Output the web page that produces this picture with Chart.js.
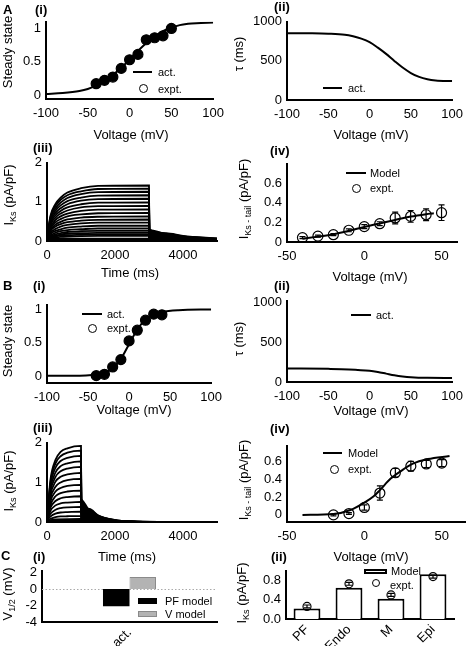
<!DOCTYPE html>
<html lang="en">
<head>
  <meta charset="UTF-8">
  <title>IKs model vs experiment</title>
  <script src="https://cdn.jsdelivr.net/npm/chart.js"></script>
  <style>
    html, body { margin: 0; padding: 0; background: #fff; }
    body { position: relative; width: 468px; height: 646px; overflow: hidden;
           font-family: "Liberation Sans", Arial, sans-serif; color: #000; }
    canvas { position: absolute; }
    .lbl { position: absolute; font-size: 13px; font-weight: bold; line-height: 1; white-space: nowrap; }
    .ytitle { position: absolute; font-size: 13px; line-height: 1; white-space: nowrap;
              transform: translate(-50%, -50%) rotate(-90deg); }
    .xtitle { position: absolute; font-size: 13px; line-height: 1; white-space: nowrap;
              transform: translate(-50%, -50%); }
    .legtxt { position: absolute; font-size: 11px; line-height: 1; white-space: nowrap; transform: translateY(-50%); }
    .legmark { position: absolute; box-sizing: border-box; }
    sub { font-size: 9px; vertical-align: baseline; position: relative; top: 3px; }
  </style>
</head>
<body>
<script>
// ---------- values ----------

// A(i) / B(i) steady-state activation
const ssVoltA = [-100, -80, -60, -50, -40, -30, -20, -10, 0, 10, 20, 30, 40, 50, 60, 70, 80, 100];
const ssModelA = [0.015, 0.03, 0.06, 0.09, 0.14, 0.21, 0.30, 0.41, 0.53, 0.66, 0.78, 0.88, 0.96, 1.01, 1.05, 1.07, 1.08, 1.09];
const ssExptVoltA = [-40, -30, -20, -10, 0, 10, 20, 30, 40, 50];
const ssExptA = [0.17, 0.22, 0.27, 0.40, 0.53, 0.61, 0.83, 0.86, 0.89, 1.0];

const ssVoltB = [-100, -60, -45, -30, -20, -10, 0, 10, 20, 30, 40, 60, 100];
const ssModelB = [0.01, 0.01, 0.02, 0.05, 0.12, 0.26, 0.48, 0.70, 0.85, 0.93, 0.965, 0.99, 1.0];
const ssExptVoltB = [-40, -30, -20, -10, 0, 10, 20, 30, 40];
const ssExptB = [0.01, 0.03, 0.14, 0.25, 0.53, 0.69, 0.84, 0.93, 0.92];

// A(ii) / B(ii) time constant
const tauVoltA = [-100, -75, -50, -30, -20, -10, 0, 10, 20, 30, 40, 50, 60, 70, 80, 100];
const tauA = [855, 853, 848, 835, 815, 785, 740, 670, 590, 500, 415, 345, 295, 265, 250, 242];
const tauVoltB = [-100, -50, -25, 0, 10, 20, 30, 40, 50, 70, 100];
const tauB = [170, 165, 158, 140, 125, 105, 85, 70, 60, 52, 50];

// A(iii) current traces, 3000 ms pulses
const timeA = [0, 100, 250, 400, 600, 1000, 1500, 3000, 3010, 3500, 4000, 5000];
const tracesA = [
  [0.05, 0.64, 0.95, 1.11, 1.24, 1.35, 1.41, 1.42, 0.30, 0.20, 0.13, 0.065],
  [0.05, 0.60, 0.90, 1.05, 1.17, 1.27, 1.33, 1.34, 0.28, 0.19, 0.12, 0.06],
  [0.05, 0.57, 0.84, 0.98, 1.10, 1.20, 1.25, 1.26, 0.27, 0.18, 0.115, 0.058],
  [0.05, 0.53, 0.78, 0.91, 1.02, 1.11, 1.16, 1.17, 0.25, 0.165, 0.107, 0.054],
  [0.05, 0.49, 0.72, 0.84, 0.94, 1.03, 1.07, 1.08, 0.23, 0.15, 0.10, 0.05],
  [0.05, 0.45, 0.66, 0.77, 0.86, 0.94, 0.98, 0.99, 0.21, 0.14, 0.09, 0.045],
  [0.05, 0.41, 0.60, 0.70, 0.78, 0.86, 0.89, 0.90, 0.19, 0.127, 0.082, 0.041],
  [0.05, 0.36, 0.54, 0.63, 0.70, 0.77, 0.80, 0.81, 0.17, 0.114, 0.074, 0.037],
  [0.05, 0.32, 0.48, 0.56, 0.63, 0.68, 0.71, 0.72, 0.15, 0.10, 0.066, 0.033],
  [0.05, 0.28, 0.42, 0.49, 0.55, 0.60, 0.62, 0.63, 0.13, 0.09, 0.058, 0.029],
  [0.05, 0.25, 0.37, 0.43, 0.48, 0.52, 0.54, 0.55, 0.12, 0.077, 0.05, 0.025],
  [0.05, 0.21, 0.31, 0.37, 0.41, 0.45, 0.47, 0.47, 0.10, 0.066, 0.043, 0.022],
  [0.05, 0.18, 0.26, 0.30, 0.34, 0.37, 0.39, 0.39, 0.08, 0.055, 0.036, 0.018],
  [0.05, 0.14, 0.21, 0.25, 0.28, 0.30, 0.32, 0.32, 0.07, 0.045, 0.03, 0.015],
  [0.05, 0.12, 0.17, 0.20, 0.23, 0.25, 0.26, 0.26, 0.055, 0.037, 0.024, 0.012],
  [0.05, 0.10, 0.14, 0.165, 0.185, 0.20, 0.21, 0.21, 0.045, 0.03, 0.02, 0.01],
  [0.05, 0.085, 0.115, 0.135, 0.15, 0.16, 0.17, 0.17, 0.036, 0.024, 0.016, 0.008],
  [0.05, 0.07, 0.09, 0.105, 0.115, 0.125, 0.13, 0.13, 0.03, 0.02, 0.012, 0.006]
];
// solid black band under the traces and tails
const bandTimeA = [0, 100, 250, 400, 600, 1000, 3000, 3010, 3500, 4000, 5000];
const bandA = [0.05, 0.07, 0.08, 0.08, 0.08, 0.08, 0.08, 0.30, 0.20, 0.13, 0.065];

// B(iii) current traces, 1000 ms pulses
const timeB = [0, 100, 250, 400, 600, 1000, 1010, 1250, 1500, 2000, 2500, 3500, 5000];
const tracesB = [
  [0.05, 1.06, 1.57, 1.77, 1.86, 1.92, 0.58, 0.33, 0.17, 0.05, 0.015, 0.003, 0],
  [0.05, 0.99, 1.48, 1.66, 1.75, 1.80, 0.54, 0.31, 0.16, 0.047, 0.014, 0.003, 0],
  [0.05, 0.92, 1.37, 1.54, 1.62, 1.67, 0.50, 0.29, 0.15, 0.044, 0.013, 0.003, 0],
  [0.05, 0.84, 1.25, 1.41, 1.48, 1.53, 0.46, 0.26, 0.135, 0.04, 0.012, 0.002, 0],
  [0.05, 0.76, 1.14, 1.28, 1.35, 1.39, 0.42, 0.24, 0.12, 0.036, 0.011, 0.002, 0],
  [0.05, 0.68, 1.02, 1.14, 1.20, 1.24, 0.37, 0.21, 0.11, 0.032, 0.01, 0.002, 0],
  [0.05, 0.60, 0.89, 1.00, 1.06, 1.09, 0.33, 0.19, 0.097, 0.028, 0.009, 0.002, 0],
  [0.05, 0.52, 0.77, 0.86, 0.91, 0.94, 0.28, 0.16, 0.083, 0.025, 0.007, 0.001, 0],
  [0.05, 0.43, 0.65, 0.73, 0.77, 0.79, 0.24, 0.136, 0.07, 0.02, 0.006, 0.001, 0],
  [0.05, 0.36, 0.53, 0.60, 0.63, 0.65, 0.20, 0.11, 0.058, 0.017, 0.005, 0.001, 0],
  [0.05, 0.28, 0.42, 0.47, 0.49, 0.51, 0.15, 0.088, 0.045, 0.013, 0.004, 0.001, 0],
  [0.05, 0.21, 0.31, 0.35, 0.37, 0.38, 0.115, 0.065, 0.034, 0.01, 0.003, 0, 0],
  [0.05, 0.14, 0.21, 0.24, 0.25, 0.26, 0.08, 0.045, 0.023, 0.007, 0.002, 0, 0],
  [0.05, 0.08, 0.12, 0.14, 0.145, 0.15, 0.045, 0.026, 0.013, 0.004, 0.001, 0, 0]
];
const bandTimeB = [0, 100, 250, 1000, 1010, 1250, 1500, 2000, 2500, 3500, 5000];
const bandB = [0.05, 0.07, 0.09, 0.1, 0.58, 0.33, 0.17, 0.05, 0.015, 0.003, 0];

// A(iv) / B(iv) tail current I-V
const tailModelVoltA = [-40, -30, -20, -10, 0, 10, 20, 30, 40, 45];
const tailModelA = [0.033, 0.055, 0.08, 0.115, 0.154, 0.19, 0.226, 0.26, 0.285, 0.295];
const tailExptVoltA = [-40, -30, -20, -10, 0, 10, 20, 30, 40, 50];
const tailExptA = [0.045, 0.06, 0.075, 0.12, 0.157, 0.187, 0.246, 0.262, 0.279, 0.30];
const tailErrA = [0.01, 0.01, 0.01, 0.015, 0.02, 0.02, 0.06, 0.06, 0.06, 0.08];

const tailModelVoltB = [-40, -20, -9, 0, 6, 10, 17, 24, 31, 41, 55];
const tailModelB = [0.0, 0.01, 0.055, 0.138, 0.21, 0.28, 0.41, 0.50, 0.575, 0.63, 0.665];
const tailExptVoltB = [-20, -10, 0, 10, 20, 30, 40, 50];
const tailExptB = [0.0, 0.015, 0.084, 0.247, 0.476, 0.55, 0.575, 0.585];
const tailErrB = [0.01, 0.01, 0.03, 0.08, 0.05, 0.055, 0.04, 0.04];

// C(i) half-activation shift, C(ii) IKs by region
const v12Cats = ['act.'];
const v12PF = [-2.1];
const v12V = [1.45];
const regions = ['PF', 'Endo', 'M', 'Epi'];
const iksModel = [0.22, 0.65, 0.42, 0.93];
const iksExpt = [0.26, 0.73, 0.5, 0.88];
const iksErr = [0.03, 0.03, 0.03, 0.03];

// tick labels
const voltTicks = [-100, -50, 0, 50, 100];
const ssTicks = [0, 0.5, 1];
const tauTicks = [0, 500, 1000];
const timeTicks = [0, 2000, 4000];
const iksTicks = [0, 1, 2];
const tailVoltTicks = [-50, 0, 50];
const tailTicks = [0, 0.2, 0.4, 0.6];
const v12Ticks = [-4, -2, 0, 2];
const iksBarTicks = [0, 0.4, 0.8];

// ---------- layout ----------
Chart.defaults.font.family = '"Liberation Sans", Arial, sans-serif';
Chart.defaults.font.size = 13;
Chart.defaults.color = '#000';

const PAD_L = 40, PAD_T = 10, PAD_R = 14;

// chart areas in page pixels
const boxA1 = { l: 46, t: 19, r: 217, b: 99 };
const boxA2 = { l: 287, t: 19, r: 456, b: 100 };
const boxA3 = { l: 47, t: 160, r: 217, b: 241 };
const boxA4 = { l: 287, t: 161, r: 457, b: 242 };
const boxB1 = { l: 47, t: 302, r: 215, b: 383 };
const boxB2 = { l: 287, t: 298, r: 456, b: 382 };
const boxB3 = { l: 47, t: 440, r: 217, b: 522 };
const boxB4 = { l: 287, t: 443, r: 465, b: 522 };
const boxC1 = { l: 42, t: 568, r: 217, b: 622 };
const boxC2 = { l: 286, t: 568, r: 454, b: 619 };

function place(box, padB) {
  const c = document.createElement('canvas');
  const w = box.r - box.l + PAD_L + PAD_R;
  const h = box.b - box.t + PAD_T + padB;
  c.width = w; c.height = h;
  c.style.width = w + 'px'; c.style.height = h + 'px';
  c.style.left = (box.l - PAD_L) + 'px';
  c.style.top = (box.t - PAD_T) + 'px';
  document.body.appendChild(c);
  return c;
}

const pts = (xs, ys) => xs.map((x, i) => ({ x, y: ys[i] }));

function linAxis(min, max, ticks, side, padB, fmt) {
  return {
    type: 'linear', position: side, min, max,
    grid: { display: false, drawTicks: false },
    border: { color: '#000', width: 2 },
    ticks: { padding: side === 'left' ? 5 : 7, autoSkip: false, maxRotation: 0,
             callback: fmt || (v => String(v)) },
    afterBuildTicks: s => { s.ticks = ticks.map(v => ({ value: v })); },
    afterFit: s => { if (side === 'left') s.width = PAD_L; else s.height = padB; }
  };
}

// error bars for any dataset carrying an errorBars array
const errorBars = {
  id: 'errorBars',
  afterDatasetsDraw(chart) {
    const ctx = chart.ctx, ys = chart.scales.y;
    chart.data.datasets.forEach((ds, di) => {
      if (!ds.errorBars) return;
      const meta = chart.getDatasetMeta(di);
      ctx.save();
      ctx.strokeStyle = '#000';
      ctx.lineWidth = 1.2;
      meta.data.forEach((pt, i) => {
        const v = typeof ds.data[i] === 'object' ? ds.data[i].y : ds.data[i];
        const hi = ys.getPixelForValue(v + ds.errorBars[i]);
        const lo = ys.getPixelForValue(v - ds.errorBars[i]);
        ctx.beginPath();
        ctx.moveTo(pt.x, hi); ctx.lineTo(pt.x, lo);
        ctx.moveTo(pt.x - 3, hi); ctx.lineTo(pt.x + 3, hi);
        ctx.moveTo(pt.x - 3, lo); ctx.lineTo(pt.x + 3, lo);
        ctx.stroke();
      });
      ctx.restore();
    });
  }
};

// dotted line at zero for C(i)
const zeroLine = {
  id: 'zeroLine',
  beforeDatasetsDraw(chart) {
    const { ctx, chartArea: a, scales: { y } } = chart;
    const py = Math.round(y.getPixelForValue(0)) + 0.5;
    ctx.save();
    ctx.strokeStyle = '#aaa';
    ctx.lineWidth = 1;
    ctx.setLineDash([1.5, 2]);
    ctx.beginPath(); ctx.moveTo(a.left, py); ctx.lineTo(a.right, py); ctx.stroke();
    ctx.restore();
  }
};

function lineSet(xs, ys, width) {
  return { data: pts(xs, ys), borderColor: '#000', borderWidth: width || 2, pointRadius: 0,
           cubicInterpolationMode: 'monotone', fill: false };
}
function dotSet(xs, ys, filled, err) {
  return { data: pts(xs, ys), showLine: false, pointRadius: 5, pointBorderWidth: 1.2,
           pointBorderColor: '#000', borderColor: '#000',
           pointBackgroundColor: filled ? '#000' : 'rgba(0,0,0,0)', errorBars: err };
}
function bandSet(xs, ys) {
  return { data: pts(xs, ys), borderWidth: 0, pointRadius: 0, fill: 'origin',
           backgroundColor: '#000', borderColor: '#000', cubicInterpolationMode: 'monotone' };
}

function xyChart(box, xAx, yAx, datasets) {
  const padB = 24;
  return new Chart(place(box, padB), {
    type: 'line',
    data: { datasets },
    options: {
      responsive: false, animation: false, events: [],
      layout: { padding: { top: PAD_T, right: PAD_R, left: 0, bottom: 0 } },
      plugins: { legend: { display: false }, tooltip: { enabled: false } },
      scales: {
        x: linAxis(xAx[0], xAx[1], xAx[2], 'bottom', padB),
        y: linAxis(yAx[0], yAx[1], yAx[2], 'left', padB)
      }
    },
    plugins: [errorBars]
  });
}

function barChart(box, labels, datasets, yAx, fmt, extra) {
  const padB = 32;
  return new Chart(place(box, padB), {
    type: 'bar',
    data: { labels, datasets },
    options: {
      responsive: false, animation: false, events: [],
      layout: { padding: { top: PAD_T, right: PAD_R, left: 0, bottom: 0 } },
      plugins: { legend: { display: false }, tooltip: { enabled: false } },
      scales: {
        x: { type: 'category', grid: { display: false, drawTicks: false },
             border: { color: '#000', width: 2 },
             ticks: { minRotation: 45, maxRotation: 45, padding: 3, autoSkip: false },
             afterFit: s => { s.height = padB; } },
        y: linAxis(yAx[0], yAx[1], yAx[2], 'left', padB, fmt)
      }
    },
    plugins: [errorBars].concat(extra || [])
  });
}

// ---------- panels ----------
xyChart(boxA1, [-100, 100, voltTicks], [-0.06, 1.1, ssTicks],
  [dotSet(ssExptVoltA, ssExptA, true), lineSet(ssVoltA, ssModelA)]);
xyChart(boxA2, [-100, 100, voltTicks], [0, 1000, tauTicks],
  [lineSet(tauVoltA, tauA)]);
xyChart(boxA3, [0, 5000, timeTicks], [0, 2, iksTicks],
  tracesA.map(tr => lineSet(timeA, tr, 1.8)).concat([bandSet(bandTimeA, bandA)]));
xyChart(boxA4, [-50, 60, tailVoltTicks], [0, 0.8, tailTicks],
  [dotSet(tailExptVoltA, tailExptA, false, tailErrA), lineSet(tailModelVoltA, tailModelA)]);

xyChart(boxB1, [-100, 100, voltTicks], [-0.1, 1.07, ssTicks],
  [dotSet(ssExptVoltB, ssExptB, true), lineSet(ssVoltB, ssModelB)]);
xyChart(boxB2, [-100, 100, voltTicks], [0, 1020, tauTicks],
  [lineSet(tauVoltB, tauB)]);
xyChart(boxB3, [0, 5000, timeTicks], [0, 2, iksTicks],
  tracesB.map(tr => lineSet(timeB, tr, 1.8)).concat([bandSet(bandTimeB, bandB)]));
xyChart(boxB4, [-50, 65, tailVoltTicks], [-0.08, 0.78, tailTicks],
  [dotSet(tailExptVoltB, tailExptB, false, tailErrB), lineSet(tailModelVoltB, tailModelB)]);

barChart(boxC1, v12Cats, [
  { label: 'PF model', data: v12PF, backgroundColor: '#000', borderColor: '#000', borderWidth: 0,
    barPercentage: 1, categoryPercentage: 0.303 },
  { label: 'V model', data: v12V, backgroundColor: '#b3b3b3', borderColor: '#8a8a8a', borderWidth: 1,
    barPercentage: 1, categoryPercentage: 0.303 }
], [-4, 2.2, v12Ticks], null, [zeroLine]);

barChart(boxC2, regions, [
  { type: 'line', label: 'expt.', data: iksExpt, showLine: false, order: 1, pointRadius: 4,
    pointBorderWidth: 1.2, pointBorderColor: '#000', borderColor: '#000',
    pointBackgroundColor: 'rgba(0,0,0,0)', errorBars: iksErr },
  { label: 'Model', data: iksModel, order: 2, backgroundColor: '#fff', borderColor: '#000', borderWidth: 2,
    barPercentage: 1, categoryPercentage: 0.64 }
], [0, 1.0, iksBarTicks], v => v.toFixed(1));

// ---------- text: panel labels, axis titles, legends ----------
function addDiv(cls, html, x, y, css) {
  const d = document.createElement('div');
  d.className = cls;
  d.innerHTML = html;
  d.style.left = x + 'px';
  d.style.top = y + 'px';
  if (css) Object.assign(d.style, css);
  document.body.appendChild(d);
}
function legLine(x1, x2, y) {
  addDiv('legmark', '', x1, y - 1, { width: (x2 - x1) + 'px', height: '2px', background: '#000' });
}
function legCircle(cx, cy, r) {
  addDiv('legmark', '', cx - r, cy - r, { width: 2 * r + 'px', height: 2 * r + 'px',
    border: '1.2px solid #000', borderRadius: '50%' });
}
function legBox(x, y, w, h, fill, border) {
  addDiv('legmark', '', x, y, { width: w + 'px', height: h + 'px', background: fill, border: border });
}
const legText = (t, x, y) => addDiv('legtxt', t, x, y);

[['A', 3, 3], ['(i)', 35, 3], ['(ii)', 274, 0], ['(iii)', 33, 141], ['(iv)', 270, 144],
 ['B', 3, 279], ['(i)', 33, 279], ['(ii)', 274, 279], ['(iii)', 33, 421], ['(iv)', 270, 422],
 ['C', 1, 549], ['(i)', 33, 550], ['(ii)', 271, 550]].forEach(p => addDiv('lbl', p[0], p[1], p[2]));

const iksTitle = 'I<sub>Ks</sub> (pA/pF)';
const tailTitle = 'I<sub>Ks - tail</sub> (pA/pF)';
[['Steady state', 7, 52], ['τ (ms)', 238, 54], [iksTitle, 8, 195], [tailTitle, 243, 199],
 ['Steady state', 7, 341], ['τ (ms)', 238, 339], [iksTitle, 8, 481], [tailTitle, 243, 480],
 ['V<sub>1/2</sub> (mV)', 7, 594], [iksTitle, 241, 593]].forEach(t => addDiv('ytitle', t[0], t[1], t[2]));

[['Voltage (mV)', 131, 134], ['Voltage (mV)', 371, 134], ['Time (ms)', 130, 272], ['Voltage (mV)', 370, 276],
 ['Voltage (mV)', 134, 409], ['Voltage (mV)', 371, 410], ['Time (ms)', 127, 556], ['Voltage (mV)', 371, 556]]
  .forEach(t => addDiv('xtitle', t[0], t[1], t[2]));

legLine(133, 152, 72); legText('act.', 158, 72); legCircle(143, 88, 4.5); legText('expt.', 158, 89);
legLine(323, 342, 88); legText('act.', 348, 88);
legLine(346, 366, 173); legText('Model', 370, 173); legCircle(356, 188, 4.5); legText('expt.', 370, 188);
legLine(82, 102, 314); legText('act.', 107, 314); legCircle(92, 328, 4.5); legText('expt.', 107, 328);
legLine(351, 371, 315); legText('act.', 376, 315);
legLine(323, 342, 453); legText('Model', 348, 453); legCircle(334, 469, 4.5); legText('expt.', 348, 469);
legBox(138, 598, 19, 6, '#000', 'none'); legText('PF model', 165, 601);
legBox(138, 611, 19, 6, '#b3b3b3', '1px solid #8a8a8a'); legText('V model', 165, 614);
legBox(364, 569, 23, 5, '#fff', '2px solid #000'); legText('Model', 391, 571);
legCircle(376, 583, 4); legText('expt.', 390, 585);
</script>
</body>
</html>
